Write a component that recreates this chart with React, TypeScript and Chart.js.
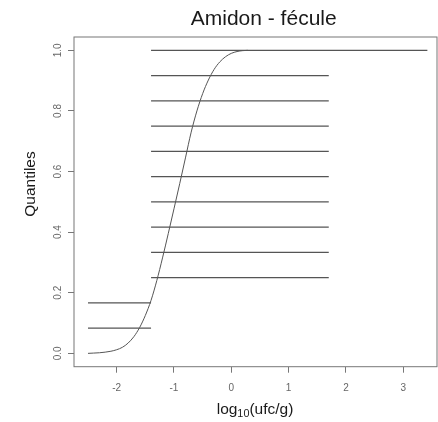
import { useEffect, useRef } from "react";
import { Chart, registerables } from "chart.js";

Chart.register(...registerables);

// Fitted cumulative curve (x = log10(ufc/g), y = quantile)
const curveX = [-2.5, -2.4, -2.3, -2.2, -2.1, -2.0, -1.9, -1.8, -1.7, -1.6, -1.5, -1.4, -1.3, -1.2, -1.1, -1.0, -0.9, -0.8, -0.7, -0.6, -0.5, -0.4, -0.3, -0.2, -0.1, 0.0, 0.1, 0.2, 0.29];
const curveY = [0.0, 0.001, 0.002, 0.004, 0.007, 0.012, 0.02, 0.034, 0.055, 0.085, 0.125, 0.175, 0.24, 0.315, 0.395, 0.477, 0.56, 0.645, 0.73, 0.8, 0.857, 0.902, 0.937, 0.962, 0.979, 0.99, 0.996, 0.999, 1.0];

// Horizontal quantile segments
const stepLevels = [0.0833, 0.1667, 0.25, 0.3333, 0.4167, 0.5, 0.5833, 0.6667, 0.75, 0.8333, 0.9167, 1.0];
const stepStart = [-2.5, -2.5, -1.4, -1.4, -1.4, -1.4, -1.4, -1.4, -1.4, -1.4, -1.4, -1.4];
const stepEnd = [-1.4, -1.4, 1.7, 1.7, 1.7, 1.7, 1.7, 1.7, 1.7, 1.7, 1.7, 3.42];

const xTickValues = [-2, -1, 0, 1, 2, 3];
const yTickValues = [0, 0.2, 0.4, 0.6, 0.8, 1.0];

const titleText = "Amidon - fécule";
const yTitleText = "Quantiles";
const xTitleMain = "log";
const xTitleSub = "10";
const xTitleRest = "(ufc/g)";

const FONT = "'Liberation Sans', Arial, Helvetica, sans-serif";

export default function App() {
  const ref = useRef<HTMLCanvasElement | null>(null);

  useEffect(() => {
    if (!ref.current) return;

    const decor = {
      id: "decor",
      afterDraw(chart: any) {
        const ctx = chart.ctx as CanvasRenderingContext2D;
        const a = chart.chartArea;
        ctx.save();
        // box
        ctx.strokeStyle = "#777";
        ctx.lineWidth = 1;
        ctx.strokeRect(a.left, a.top, a.right - a.left, a.bottom - a.top);

        // main title
        ctx.fillStyle = "#1a1a1a";
        ctx.font = `21px ${FONT}`;
        ctx.textAlign = "center";
        ctx.textBaseline = "alphabetic";
        ctx.fillText(titleText, 263.7, 25);

        // x axis title with subscript
        const mainSize = 15.5;
        const subSize = 10.8;
        ctx.font = `${mainSize}px ${FONT}`;
        const w1 = ctx.measureText(xTitleMain).width;
        const w3 = ctx.measureText(xTitleRest).width;
        ctx.font = `${subSize}px ${FONT}`;
        const w2 = ctx.measureText(xTitleSub).width;
        const total = w1 + w2 + w3;
        const x0 = 255 - total / 2;
        const base = 414;
        ctx.textAlign = "left";
        ctx.font = `${mainSize}px ${FONT}`;
        ctx.fillText(xTitleMain, x0, base);
        ctx.font = `${subSize}px ${FONT}`;
        ctx.fillText(xTitleSub, x0 + w1, base + 3);
        ctx.font = `${mainSize}px ${FONT}`;
        ctx.fillText(xTitleRest, x0 + w1 + w2, base);

        // y axis title
        ctx.translate(35, 184);
        ctx.rotate(-Math.PI / 2);
        ctx.textAlign = "center";
        ctx.fillText(yTitleText, 0, 0);
        ctx.restore();
      },
    };

    const datasets: any[] = [
      {
        data: curveX.map((x, i) => ({ x, y: curveY[i] })),
        borderColor: "#555",
        borderWidth: 1,
        pointRadius: 0,
        cubicInterpolationMode: "monotone",
        fill: false,
      },
      ...stepLevels.map((lvl, i) => ({
        data: [
          { x: stepStart[i], y: lvl },
          { x: stepEnd[i], y: lvl },
        ],
        borderColor: "#555",
        borderWidth: 1.3,
        pointRadius: 0,
        fill: false,
      })),
    ];

    const chart = new Chart(ref.current, {
      type: "line",
      data: { datasets },
      options: {
        responsive: false,
        animation: false,
        layout: { padding: { top: 37, right: 1, left: 0, bottom: 0 } },
        plugins: {
          legend: { display: false },
          tooltip: { enabled: false },
          title: { display: false },
        },
        scales: {
          x: {
            type: "linear",
            min: -2.744,
            max: 3.588,
            afterBuildTicks: (s: any) => {
              s.ticks = xTickValues.map((v) => ({ value: v }));
            },
            afterFit: (s: any) => {
              s.height = 55.3;
            },
            ticks: {
              callback: (v: any) => String(v),
              font: { size: 10, family: FONT },
              color: "#666",
              padding: 10,
              maxRotation: 0,
              minRotation: 0,
              autoSkip: false,
            },
            grid: {
              drawOnChartArea: false,
              drawTicks: true,
              tickLength: 6,
              color: "#777",
            },
            border: { display: false },
          },
          y: {
            type: "linear",
            min: -0.044,
            max: 1.044,
            afterBuildTicks: (s: any) => {
              s.ticks = yTickValues.map((v) => ({ value: v }));
            },
            afterFit: (s: any) => {
              s.width = 74;
            },
            ticks: {
              callback: (v: any) => Number(v).toFixed(1),
              font: { size: 10, family: FONT },
              color: "#666",
              padding: 2.5,
              minRotation: 90,
              maxRotation: 90,
              crossAlign: "center",
              autoSkip: false,
            },
            grid: {
              drawOnChartArea: false,
              drawTicks: true,
              tickLength: 6,
              color: "#777",
            },
            border: { display: false },
          },
        },
      },
      plugins: [decor],
    } as any);

    return () => chart.destroy();
  }, []);

  return (
    <div style={{ position: "absolute", left: 0, top: 0, width: 438, height: 422, background: "#fff" }}>
      <canvas ref={ref} width={438} height={422} />
    </div>
  );
}
